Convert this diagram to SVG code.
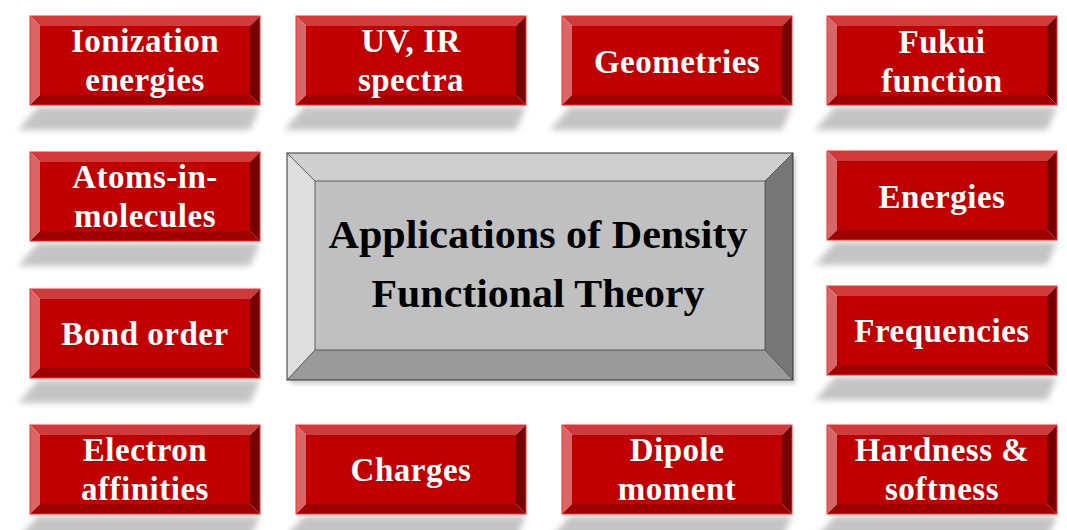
<svg xmlns="http://www.w3.org/2000/svg" xmlns:xlink="http://www.w3.org/1999/xlink" width="1067" height="530" viewBox="0 0 1067 530">
<defs>
<style>
.lbl{font-family:"Liberation Serif","Times New Roman",serif;font-weight:bold;font-size:33px;fill:#ffffff;text-anchor:middle;letter-spacing:0.5px}
.ctr{font-family:"Liberation Serif","Times New Roman",serif;font-weight:bold;font-size:39px;fill:#000000;text-anchor:middle}
</style>
<filter id="blur" x="-20%" y="-50%" width="140%" height="200%"><feGaussianBlur stdDeviation="3"/></filter>
<filter id="cblur" x="-10%" y="-10%" width="120%" height="120%"><feGaussianBlur stdDeviation="2"/></filter>
<g id="redbox">
<polygon points="8,91 230,91 220,114 -12,114" fill="#c4c4c4" filter="url(#blur)"/>
<polygon points="0,0 230,0 220,10 10,10" fill="#cf3b3b"/>
<polygon points="0,0 10,10 10,79 0,89" fill="#d96666"/>
<polygon points="230,0 230,89 220,79 220,10" fill="#760000"/>
<polygon points="0,89 10,79 220,79 230,89" fill="#9e0000"/>
<rect x="10" y="10" width="210" height="69" fill="#c00000"/>
<rect x="0" y="0" width="230" height="89" fill="none" stroke="#ff2a2a" stroke-width="1"/>
</g>
</defs>
<rect width="1067" height="530" fill="#ffffff"/>
<g id="connectors"/>
<g id="center">
<rect x="290" y="157" width="506" height="227" fill="#888" opacity="0.4" filter="url(#cblur)"/>
<polygon points="287,153 793,153 765,181 315,181" fill="#cfcfcf"/>
<polygon points="287,153 315,181 315,350 287,380" fill="#dedede"/>
<polygon points="793,153 793,380 765,350 765,181" fill="#777777"/>
<polygon points="287,380 315,350 765,350 793,380" fill="#9a9a9a"/>
<rect x="315" y="181" width="450" height="169" fill="#c0c0c0" stroke="#444" stroke-width="0.8"/>
<line x1="287" y1="153" x2="315" y2="181" stroke="#444" stroke-width="0.8"/>
<line x1="793" y1="153" x2="765" y2="181" stroke="#444" stroke-width="0.8"/>
<line x1="287" y1="380" x2="315" y2="350" stroke="#444" stroke-width="0.8"/>
<line x1="793" y1="380" x2="765" y2="350" stroke="#444" stroke-width="0.8"/>
<rect x="287" y="153" width="506" height="227" fill="none" stroke="#333" stroke-width="1"/>
<text class="ctr" x="538" y="248" textLength="419" lengthAdjust="spacingAndGlyphs">Applications of Density</text>
<text class="ctr" x="538" y="307" textLength="333" lengthAdjust="spacingAndGlyphs">Functional Theory</text>
</g>
<g id="n-ionization"><use xlink:href="#redbox" x="30" y="16"/><text class="lbl" x="145" y="52">Ionization</text><text class="lbl" x="145" y="91">energies</text></g>
<g id="n-uvir"><use xlink:href="#redbox" x="296" y="16"/><text class="lbl" x="411" y="52">UV, IR</text><text class="lbl" x="411" y="91">spectra</text></g>
<g id="n-geometries"><use xlink:href="#redbox" x="562" y="16"/><text class="lbl" x="677" y="73">Geometries</text></g>
<g id="n-fukui"><use xlink:href="#redbox" x="827" y="16"/><text class="lbl" x="942" y="53">Fukui</text><text class="lbl" x="942" y="92">function</text></g>
<g id="n-aim"><use xlink:href="#redbox" x="30" y="152"/><text class="lbl" x="145" y="188">Atoms-in-</text><text class="lbl" x="145" y="227">molecules</text></g>
<g id="n-energies"><use xlink:href="#redbox" x="827" y="151"/><text class="lbl" x="942" y="208">Energies</text></g>
<g id="n-bond"><use xlink:href="#redbox" x="30" y="289"/><text class="lbl" x="145" y="345">Bond order</text></g>
<g id="n-freq"><use xlink:href="#redbox" x="827" y="286"/><text class="lbl" x="942" y="342">Frequencies</text></g>
<g id="n-electron"><use xlink:href="#redbox" x="30" y="425"/><text class="lbl" x="145" y="461">Electron</text><text class="lbl" x="145" y="500">affinities</text></g>
<g id="n-charges"><use xlink:href="#redbox" x="296" y="425"/><text class="lbl" x="411" y="481">Charges</text></g>
<g id="n-dipole"><use xlink:href="#redbox" x="562" y="425"/><text class="lbl" x="677" y="461">Dipole</text><text class="lbl" x="677" y="500">moment</text></g>
<g id="n-hardness"><use xlink:href="#redbox" x="827" y="425"/><text class="lbl" x="942" y="461">Hardness &amp;</text><text class="lbl" x="942" y="500">softness</text></g>
</svg>
